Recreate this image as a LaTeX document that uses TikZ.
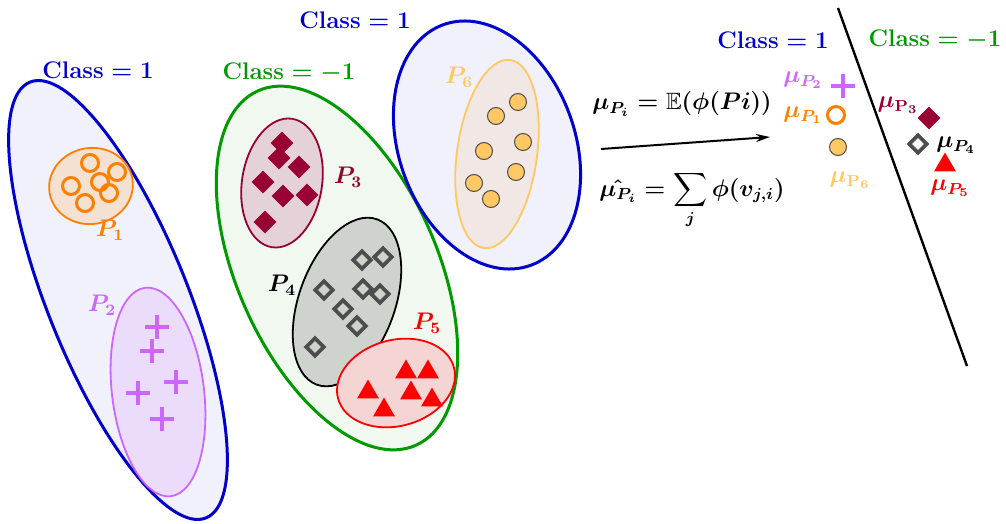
\documentclass[tikz,border=0pt]{standalone}
\usepackage{amsmath,amssymb,bm}
\usetikzlibrary{shapes.geometric,shapes.misc,arrows.meta}
\definecolor{cblue}{RGB}{0,0,204}
\definecolor{cbluefill}{RGB}{241,241,251}
\definecolor{cgreen}{RGB}{0,153,0}
\definecolor{cgreenfill}{RGB}{240,248,240}
\definecolor{corange}{RGB}{255,128,0}
\definecolor{corangefill}{RGB}{245,225,210}
\definecolor{cviolet}{RGB}{204,102,255}
\definecolor{cvioletfill}{RGB}{234,220,250}
\definecolor{cmaroon}{RGB}{153,0,51}
\definecolor{cmaroonfill}{RGB}{228,210,216}
\definecolor{cgray}{RGB}{77,77,77}
\definecolor{cgrayfill}{RGB}{206,211,206}
\definecolor{cred}{RGB}{255,0,0}
\definecolor{credfill}{RGB}{245,212,212}
\definecolor{cyel}{RGB}{255,200,100}
\definecolor{cyelfill}{RGB}{241,232,230}
\begin{document}
\begin{tikzpicture}[x=0.5pt,y=-0.5pt,
  every node/.style={font=\fontsize{11.8}{14}\selectfont\boldmath},
  region/.style={ellipse, draw, inner sep=0pt, line width=1.5pt},
  group/.style={ellipse, draw, inner sep=0pt, line width=0.9pt},
  ocirc/.style={circle, draw=corange, line width=1.5pt, minimum size=8.5pt, inner sep=0pt},
  ycirc/.style={circle, draw=black!70, fill=cyel, line width=0.5pt, minimum size=8.5pt, inner sep=0pt},
  fdiam/.style={diamond, fill=cmaroon, minimum size=11.5pt, inner sep=0pt},
  odiam/.style={diamond, draw=cgray, line width=1.8pt, minimum size=9.5pt, inner sep=0pt},
  tri/.style={regular polygon, regular polygon sides=3, fill=cred, minimum size=12.5pt, inner sep=0pt},
  plusm/.style={cross out, draw=cviolet, line width=2pt, rotate=45, minimum size=6.6pt, inner sep=0pt},
  lbl/.style={inner sep=1pt}
]
\useasboundingbox (0,0) rectangle (1006,524);

% big class regions
\node[region, draw=cblue, fill=cbluefill, minimum width=70pt, minimum height=235pt, rotate=22] (R1) at (118,300) {};
\node[region, draw=cgreen, fill=cgreenfill, minimum width=100pt, minimum height=194pt, rotate=24] (R2) at (337,268) {};
\node[region, draw=cblue, fill=cbluefill, minimum width=88pt, minimum height=128pt, rotate=20] (R3) at (487,145) {};

% groups
\node[group, draw=corange, fill=corangefill, minimum width=42pt, minimum height=38pt, rotate=10] (G1) at (91,186) {};
\node[group, draw=cviolet, fill=cvioletfill, minimum width=46pt, minimum height=105pt, rotate=7] (G2) at (158,392) {};
\node[group, draw=cmaroon, fill=cmaroonfill, minimum width=40pt, minimum height=65pt, rotate=-9] (G3) at (282,183) {};
\node[group, draw=black, fill=cgrayfill, minimum width=48pt, minimum height=88pt, rotate=-20] (G4) at (347,302) {};
\node[group, draw=cred, fill=credfill, minimum width=60pt, minimum height=43pt, rotate=15] (G5) at (396,383) {};
\node[group, draw=cyel, fill=cyelfill, minimum width=40pt, minimum height=95pt, rotate=-8] (G6) at (497,154) {};

% class labels
\node[text=cblue] (C1) at (98,70) {$\mathbf{Class}=\mathbf{1}$};
\node[text=cgreen] (C2) at (289,73) {$\mathbf{Class}=-\mathbf{1}$};
\node[text=cblue] (C3) at (355,20) {$\mathbf{Class}=\mathbf{1}$};
\node[text=cblue] (C4) at (773,40) {$\mathbf{Class}=\mathbf{1}$};
\node[text=cgreen] (C5) at (935,40) {$\mathbf{Class}=-\mathbf{1}$};

% group labels
\node[lbl, text=corange] (L1) at (110,230) {$P_1$};
\node[lbl, text=cviolet] (L2) at (102,305) {$P_2$};
\node[lbl, text=cmaroon] (L3) at (348,177) {$P_3$};
\node[lbl, text=black] (L4) at (282,285) {$P_4$};
\node[lbl, text=cred] (L5) at (427,323) {$P_5$};
\node[lbl, text=cyel] (L6) at (459,77) {$P_6$};

% P1 circles
\foreach \x/\y [count=\i] in {90/163,117/172,71/186,100/182,109/193,85/203}
  \node[ocirc] (o\i) at (\x,\y) {};
% P2 plus
\foreach \x/\y [count=\i] in {157/327,152/351,176/382,138/393,162/419}
  \node[plusm] (p\i) at (\x,\y) {};
% P3 diamonds
\foreach \x/\y [count=\i] in {282/143,279/158,299/167,263/182,283/196,307/195,265/222}
  \node[fdiam] (d\i) at (\x,\y) {};
% P4 open diamonds
\foreach \x/\y [count=\i] in {362/260,383/257,324/290,363/289,380/294,343/309,357/326,315/347}
  \node[odiam] (e\i) at (\x,\y) {};
% P5 triangles
\foreach \x/\y [count=\i] in {406/372,428/372,368/392,411/393,384/410,432/400}
  \node[tri] (t\i) at (\x,\y) {};
% P6 circles
\foreach \x/\y [count=\i] in {518/102,496/116,523/142,484/151,516/172,474/183,491/199}
  \node[ycirc] (y\i) at (\x,\y) {};

% mapping arrow and formulas
\coordinate (a1) at (601,149);
\coordinate (a2) at (770,137);
\draw[line width=1pt, -{Stealth[length=7pt,width=4pt]}] (a1) -- (a2);
\node (F1) at (682,104) {$\mu_{P_i}=\mathbb{E}(\phi(Pi))$};
\node[anchor=base] (F2) at (692,196) {$\hat{\mu_{P_i}}=\displaystyle\sum_j \phi(v_{j,i})$};

% separating line
\coordinate (s1) at (838,8);
\coordinate (s2) at (967,366);
\draw[line width=1.2pt] (s1) -- (s2);

% embedded means
\node[plusm] (m2) at (843,86) {};
\node[ocirc] (m1) at (836,115) {};
\node[ycirc] (m6) at (838,147) {};
\node[fdiam] (m3) at (929,118) {};
\node[odiam] (m4) at (918,144) {};
\node[tri] (m5) at (945,165) {};
\node[lbl, text=cviolet] (n2) at (803,80) {$\mu_{P_2}$};
\node[lbl, text=corange] (n1) at (803,115) {$\mu_{P_1}$};
\node[lbl, text=cyel] (n6) at (850,180) {$\mu_{\mathbf{P_6}}$};
\node[lbl, text=cmaroon] (n3) at (898,105) {$\mu_{\mathbf{P_3}}$};
\node[lbl, text=black] (n4) at (956,145) {$\mu_{P_4}$};
\node[lbl, text=cred] (n5) at (950,188) {$\mu_{P_5}$};
\end{tikzpicture}
\end{document}
